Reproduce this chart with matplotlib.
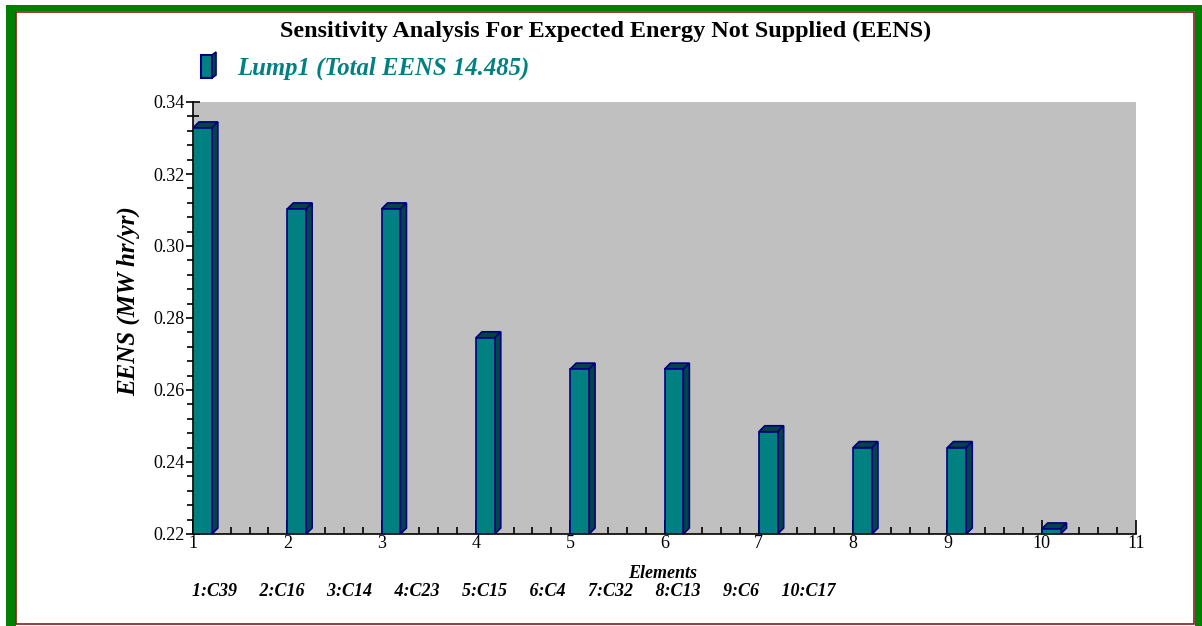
import numpy as np
import matplotlib.pyplot as plt
from matplotlib.patches import Polygon, Rectangle
from matplotlib.ticker import MultipleLocator

plt.rcParams['font.family'] = ['Liberation Serif', 'DejaVu Serif']

# datos
elements = [1, 2, 3, 4, 5, 6, 7, 8, 9, 10]
names = ["C39", "C16", "C14", "C23", "C15", "C4", "C32", "C13", "C6", "C17"]
eens = [0.3328, 0.3103, 0.3103, 0.2745, 0.2658, 0.2658, 0.2484, 0.2440, 0.2440, 0.2214]

teal = "#008080"
dark = "#004545"
navy = "#000080"

fig = plt.figure(figsize=(12.02, 6.26), dpi=100)
ax = fig.add_axes([193 / 1202, 1 - 534 / 626, (1136 - 193) / 1202, (534 - 102) / 626])
ax.set_facecolor("#c0c0c0")
ax.set_xlim(1, 11)
ax.set_ylim(0.22, 0.34)

# barras con efecto 3D
w = 0.2
dx = 6 / 94.3
dy = 6 / 3600
base = 0.22
ax.bar(elements, [v - base for v in eens], bottom=base, width=w, align="edge",
       color=teal, edgecolor=navy, linewidth=1.2, zorder=3)
for x, v in zip(elements, eens):
    top = [(x, v), (x + dx, v + dy), (x + w + dx, v + dy), (x + w, v)]
    side = [(x + w, base), (x + w + dx, base + dy), (x + w + dx, v + dy), (x + w, v)]
    ax.add_patch(Polygon(top, closed=True, facecolor=dark, edgecolor=navy, linewidth=1.2, zorder=2))
    ax.add_patch(Polygon(side, closed=True, facecolor=dark, edgecolor=navy, linewidth=1.2, zorder=2))

ax.spines["top"].set_visible(False)
ax.spines["right"].set_visible(False)
ax.spines["left"].set_linewidth(1.2)
ax.spines["bottom"].set_linewidth(1.2)
ax.xaxis.set_major_locator(MultipleLocator(1))
ax.xaxis.set_minor_locator(MultipleLocator(0.2))
ax.yaxis.set_major_locator(MultipleLocator(0.02))
ax.yaxis.set_minor_locator(MultipleLocator(0.004))
ax.yaxis.set_major_formatter(plt.FuncFormatter(lambda v, p: f"{v:.2f}"))
ax.tick_params(which="major", direction="inout", length=10, width=1.2, labelsize=13, pad=1)
ax.tick_params(which="minor", direction="in", length=5, width=1.2)
ax.tick_params(axis="y", which="minor", direction="inout", length=8)
ax.tick_params(axis="x", which="major", direction="in", length=10)

# título y leyenda
fig.text(0.504, 1 - 31 / 626, "Sensitivity Analysis For Expected Energy Not Supplied (EENS)",
         ha="center", va="center", fontsize=17.4, fontweight="bold")
fig.patches.append(Rectangle((201 / 1202, 1 - 78 / 626), 11 / 1202, 23 / 626,
                             transform=fig.transFigure, facecolor=teal, edgecolor=navy, linewidth=1.5))
fig.patches.append(Polygon([(212 / 1202, 1 - 78 / 626), (216 / 1202, 1 - 75 / 626),
                            (216 / 1202, 1 - 52 / 626), (212 / 1202, 1 - 55 / 626)],
                           closed=True, transform=fig.transFigure, facecolor=dark, edgecolor=navy, linewidth=1.2))
fig.text(237 / 1202, 1 - 68 / 626, "Lump1 (Total EENS 14.485)", ha="left", va="center",
         fontsize=17.8, fontweight="bold", style="italic", color=teal)

# etiquetas de ejes
fig.text(128 / 1202, 1 - 301 / 626, "EENS (MW hr/yr)", rotation=90, ha="center", va="center",
         fontsize=18, fontweight="bold", style="italic")
fig.text(663 / 1202, 1 - 574 / 626, "Elements", ha="center", va="center",
         fontsize=13, fontweight="bold", style="italic")
legend_row = "     ".join(f"{e}:{n}" for e, n in zip(elements, names))
fig.text(192 / 1202, 1 - 591 / 626, legend_row, ha="left", va="center",
         fontsize=13, fontweight="bold", style="italic")

# marco verde
fig.patches.append(Rectangle((6 / 1202, 0), 10 / 1202, 1 - 5 / 626, transform=fig.transFigure,
                             facecolor="#008000", edgecolor="none"))
fig.patches.append(Rectangle((6 / 1202, 1 - 11 / 626), 1196 / 1202, 6 / 626, transform=fig.transFigure,
                             facecolor="#008000", edgecolor="none"))
fig.patches.append(Rectangle((1195 / 1202, 0), 7 / 1202, 1 - 5 / 626, transform=fig.transFigure,
                             facecolor="#008000", edgecolor="none"))
fig.patches.append(Rectangle((16 / 1202, 2 / 626), 1178 / 1202, 1 - 14 / 626, transform=fig.transFigure,
                             facecolor="none", edgecolor="#8b1a1a", linewidth=1.2))

plt.savefig("out.png", dpi=100)
